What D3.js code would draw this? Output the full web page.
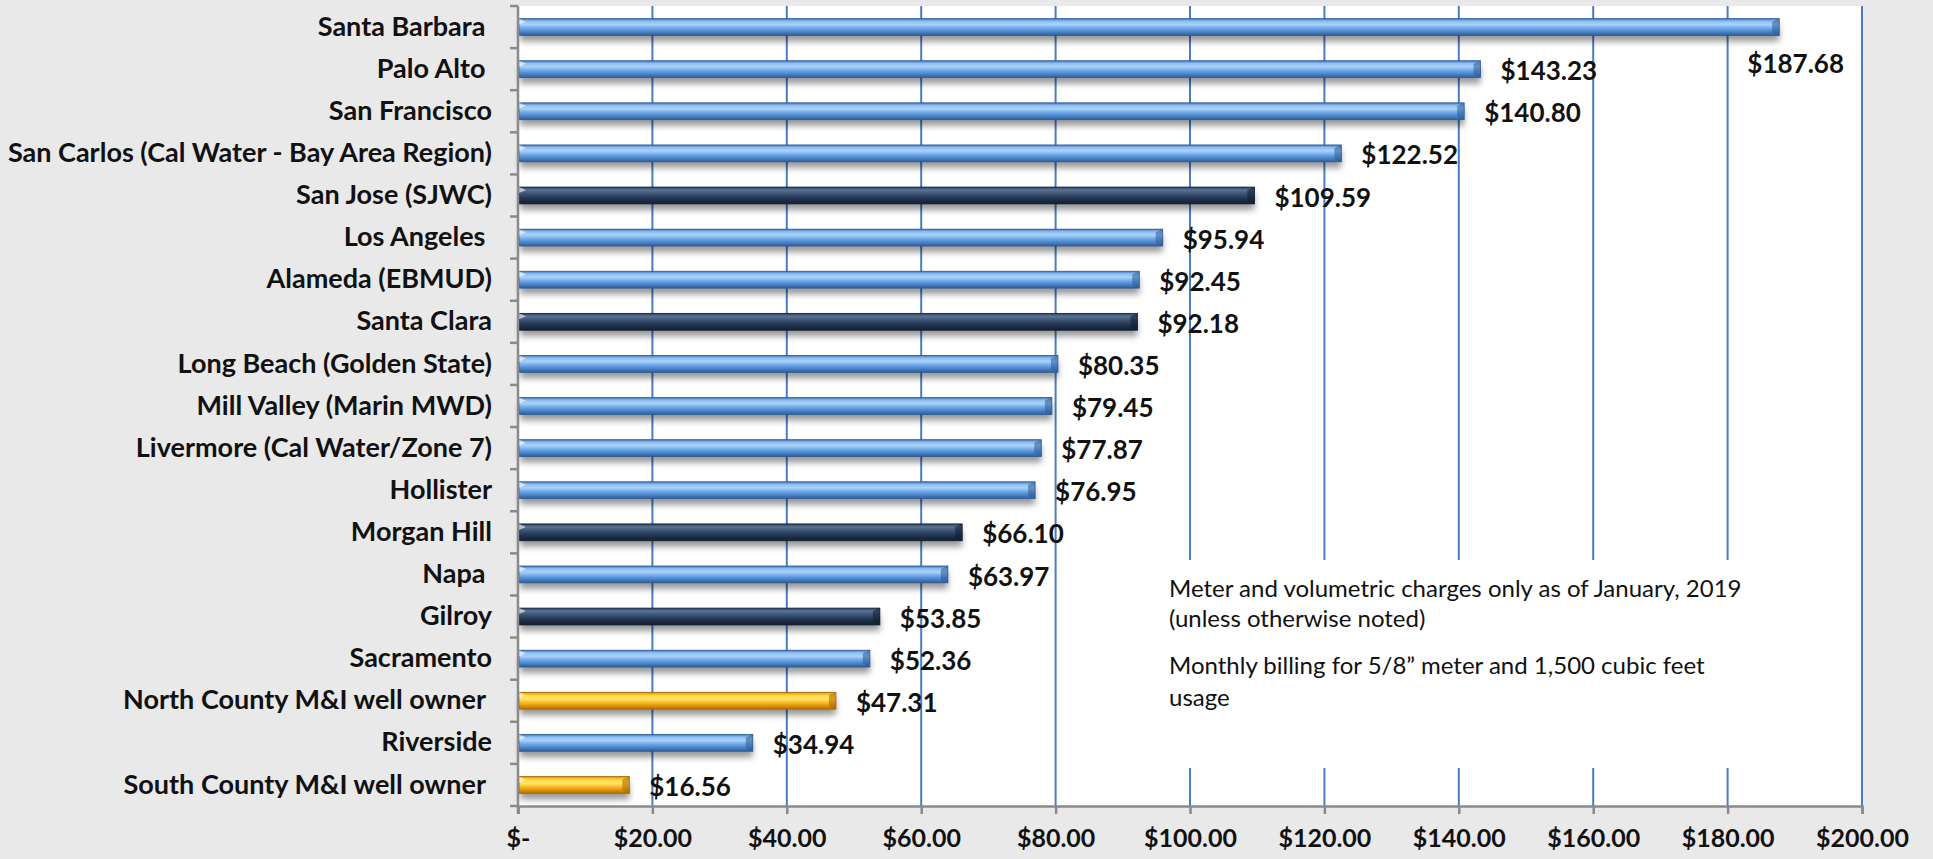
<!DOCTYPE html>
<html>
<head>
<meta charset="utf-8">
<script src="https://cdn.jsdelivr.net/npm/d3@7"></script>
<style>
  html, body { margin: 0; padding: 0; background: #e9e9e9; }
  svg { display: block; }
  text { font-family: Lato, "Open Sans", sans-serif; fill: #111; }
</style>
</head>
<body>
<svg id="chart"></svg>
<script>
// data, top to bottom as in the chart
var cities = [
  "Santa Barbara ", "Palo Alto ", "San Francisco", "San Carlos (Cal Water - Bay Area Region)",
  "San Jose (SJWC)", "Los Angeles ", "Alameda (EBMUD)", "Santa Clara",
  "Long Beach (Golden State)", "Mill Valley (Marin MWD)", "Livermore (Cal Water/Zone 7)",
  "Hollister", "Morgan Hill", "Napa ", "Gilroy", "Sacramento",
  "North County M&I well owner ", "Riverside", "South County M&I well owner "
];
var bills = [
  187.68, 143.23, 140.80, 122.52, 109.59, 95.94, 92.45, 92.18, 80.35, 79.45,
  77.87, 76.95, 66.10, 63.97, 53.85, 52.36, 47.31, 34.94, 16.56
];
// b = other utilities, n = county retailers, o = well owners
var groups = [
  "b", "b", "b", "b", "n", "b", "b", "n", "b", "b",
  "b", "b", "n", "b", "n", "b", "o", "b", "o"
];
var xTicks = [0, 20, 40, 60, 80, 100, 120, 140, 160, 180, 200];
var notes = [
  "Meter and volumetric charges only as of January, 2019",
  "(unless otherwise noted)",
  "Monthly billing for 5/8\u201d meter and 1,500 cubic feet",
  "usage"
];

var width = 1933, height = 859;
var margin = { top: 6, right: 71, bottom: 53, left: 518 };

var svg = d3.select("#chart").attr("width", width).attr("height", height);

var x = d3.scaleLinear().domain([0, 200]).range([margin.left, width - margin.right]);
var y = d3.scaleBand().domain(cities).range([margin.top, height - margin.bottom])
  .paddingInner(0.6).paddingOuter(0.3);

var defs = svg.append("defs");
var grads = {
  b: [["0%", "#3d72ba"], ["15%", "#8cbdf2"], ["35%", "#acd2f8"], ["60%", "#66a4e8"], ["100%", "#2d5d9c"]],
  n: [["0%", "#2b4160"], ["18%", "#5a7394"], ["38%", "#3d5576"], ["70%", "#20334d"], ["100%", "#111f33"]],
  o: [["0%", "#e08a00"], ["18%", "#ffd93d"], ["40%", "#ffe46a"], ["65%", "#f7b21a"], ["100%", "#b96d00"]]
};
Object.keys(grads).forEach(function(k) {
  var g = defs.append("linearGradient").attr("id", "g-" + k)
    .attr("x1", 0).attr("y1", 0).attr("x2", 0).attr("y2", 1);
  grads[k].forEach(function(s) {
    g.append("stop").attr("offset", s[0]).attr("stop-color", s[1]);
  });
});
var edge = { b: "#2b5a96", n: "#0f1c2e", o: "#a86300" };

defs.append("filter").attr("id", "shadow").attr("x", "-5%").attr("y", "-50%")
  .attr("width", "110%").attr("height", "200%")
  .append("feGaussianBlur").attr("stdDeviation", 3);

// plot area
svg.append("rect")
  .attr("x", x(0)).attr("y", margin.top)
  .attr("width", x(200) - x(0)).attr("height", height - margin.bottom - margin.top)
  .attr("fill", "#fff");

// vertical gridlines
svg.append("g").selectAll("line")
  .data(xTicks.filter(function(d) { return d > 0; }))
  .enter().append("line")
  .attr("x1", function(d) { return x(d); }).attr("x2", function(d) { return x(d); })
  .attr("y1", margin.top).attr("y2", height - margin.bottom)
  .attr("stroke", "#4a7cc2").attr("stroke-width", 2);

// note box covers part of the grid
var noteBox = svg.append("g");
noteBox.append("rect")
  .attr("x", 1152).attr("y", 560).attr("width", 695).attr("height", 208)
  .attr("fill", "#fff");

// bars
var bars = svg.append("g").selectAll("g")
  .data(cities)
  .enter().append("g");

bars.append("rect")
  .attr("x", x(0) + 2)
  .attr("y", function(d) { return y(d) + 6; })
  .attr("width", function(d, i) { return x(bills[i]) - x(0) - 2; })
  .attr("height", y.bandwidth())
  .attr("fill", "rgba(0,0,0,0.4)")
  .attr("filter", "url(#shadow)");

bars.append("rect")
  .attr("x", x(0) + 1)
  .attr("y", function(d) { return y(d); })
  .attr("width", function(d, i) { return x(bills[i]) - x(0) - 1; })
  .attr("height", y.bandwidth())
  .attr("fill", function(d, i) { return "url(#g-" + groups[i] + ")"; })
  .attr("stroke", function(d, i) { return edge[groups[i]]; })
  .attr("stroke-width", 0.8);

// bevelled end caps
bars.append("path")
  .attr("d", function(d, i) {
    var x1 = x(bills[i]), y0 = y(d), y1 = y(d) + y.bandwidth();
    return "M" + (x1 - 7) + "," + (y0 + 3) + "L" + x1 + "," + y0 +
      "L" + x1 + "," + y1 + "L" + (x1 - 7) + "," + (y1 - 3) + "Z";
  })
  .attr("fill", function(d, i) { return edge[groups[i]]; })
  .attr("opacity", 0.55);
bars.append("path")
  .attr("d", function(d) {
    var x0 = x(0) + 1, y0 = y(d);
    return "M" + x0 + "," + y0 + "L" + (x0 + 7) + "," + (y0 + 3) + "L" + x0 + "," + (y0 + 6) + "Z";
  })
  .attr("fill", "rgba(255,255,255,0.6)");

// value labels
var fmt = d3.format(",.2f");
bars.append("text")
  .attr("font-size", 26).attr("font-weight", 700)
  .text(function(d, i) { return "$" + fmt(bills[i]); })
  .each(function(d, i) {
    var t = d3.select(this);
    var w = this.getComputedTextLength();
    var cx = x(bills[i]) + 20, cy = y(d) + y.bandwidth() / 2 + 2;
    if (cx + w > x(200)) {
      // no room to the right: drop it below the bar, inside the plot
      t.attr("text-anchor", "end").attr("x", x(200) - 18).attr("y", cy + 35);
    } else {
      t.attr("x", cx).attr("y", cy);
    }
  })
  .attr("dy", "0.35em");

// category axis
var step = y.step();
var yAxis = svg.append("g");
yAxis.append("line")
  .attr("x1", x(0)).attr("x2", x(0))
  .attr("y1", margin.top).attr("y2", height - margin.bottom + 8)
  .attr("stroke", "#8a8a8a").attr("stroke-width", 2.5);
yAxis.selectAll(".tk")
  .data(d3.range(cities.length + 1))
  .enter().append("line")
  .attr("x1", x(0) - 8).attr("x2", x(0))
  .attr("y1", function(i) { return margin.top + i * step; })
  .attr("y2", function(i) { return margin.top + i * step; })
  .attr("stroke", "#8a8a8a").attr("stroke-width", 2.5);

svg.append("g")
  .attr("transform", "translate(" + x(0) + ",0)")
  .call(d3.axisLeft(y).tickSize(0).tickPadding(26))
  .call(function(g) {
    g.select(".domain").remove();
    g.selectAll("text")
      .attr("font-size", 27).attr("font-weight", 700)
      .attr("fill", "#111").style("white-space", "pre")
      .attr("font-family", "Lato, sans-serif");
  });

// value axis
svg.append("g")
  .attr("transform", "translate(0," + (height - margin.bottom) + ")")
  .call(d3.axisBottom(x).tickValues(xTicks).tickSize(8).tickPadding(15)
    .tickFormat(function(d) { return d === 0 ? "$-" : "$" + d3.format(".2f")(d); }))
  .call(function(g) {
    g.select(".domain").attr("stroke", "#8a8a8a").attr("stroke-width", 2.5);
    g.selectAll(".tick line").attr("stroke", "#8a8a8a").attr("stroke-width", 2.5);
    g.selectAll("text")
      .attr("font-size", 25).attr("font-weight", 700)
      .attr("fill", "#111").attr("font-family", "Lato, sans-serif");
  });

// note text
noteBox.selectAll("text")
  .data(notes)
  .enter().append("text")
  .attr("x", 1169)
  .attr("y", function(d, i) { return [597, 627, 674, 706][i]; })
  .attr("font-size", 24)
  .text(function(d) { return d; });
</script>
</body>
</html>
